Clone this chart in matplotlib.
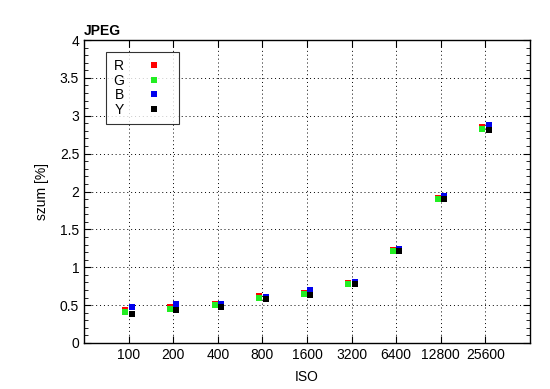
import matplotlib
matplotlib.use("Agg")
import matplotlib.pyplot as plt
from matplotlib.ticker import MultipleLocator

plt.rcParams['font.family'] = ['Liberation Sans', 'DejaVu Sans']

iso = ["100", "200", "400", "800", "1600", "3200", "6400", "12800", "25600"]
R = [0.44, 0.48, 0.52, 0.62, 0.66, 0.79, 1.23, 1.91, 2.85]
G = [0.41, 0.45, 0.50, 0.59, 0.65, 0.78, 1.22, 1.90, 2.83]
B = [0.47, 0.51, 0.52, 0.61, 0.70, 0.80, 1.24, 1.94, 2.88]
Y = [0.38, 0.43, 0.47, 0.58, 0.63, 0.78, 1.21, 1.90, 2.81]
yticks = [0, 0.5, 1, 1.5, 2, 2.5, 3, 3.5, 4]
ytick_labels = ["0", "0.5", "1", "1.5", "2", "2.5", "3", "3.5", "4"]

series = [("R", R, "#ff0000", -0.07), ("G", G, "#22ee22", -0.07),
          ("B", B, "#0000ee", 0.07), ("Y", Y, "#000000", 0.07)]

fig = plt.figure(figsize=(5.5, 3.89), dpi=100)
ax = fig.add_axes([84/550, 1-343/389, 446/550, 303/389])

pos = list(range(1, len(iso) + 1))
for name, vals, col, off in series:
    ax.plot([p + off for p in pos], vals, linestyle='none', marker='s',
            markersize=4.5, color=col, markeredgewidth=0, label=name)

ax.set_xlim(0, 10)
ax.set_ylim(0, 4)
ax.set_xticks(pos)
ax.set_xticklabels(iso)
ax.set_yticks(yticks)
ax.set_yticklabels(ytick_labels)
ax.yaxis.set_minor_locator(MultipleLocator(0.1))
ax.tick_params(which='both', direction='in', top=True, right=True, labelsize=10)
ax.tick_params(which='major', length=5)
ax.tick_params(which='minor', length=3)
ax.grid(True, which='major', color='black', linestyle=(0, (1, 3)), linewidth=0.7)
for s in ax.spines.values():
    s.set_linewidth(1)

ax.set_xlabel("ISO", fontsize=10, labelpad=6)
ax.set_ylabel("szum [%]", fontsize=10, labelpad=8)
ax.text(0, 1.008, "JPEG", transform=ax.transAxes, fontsize=10, fontweight='bold',
        ha='left', va='bottom')

leg = ax.legend(loc='upper left', bbox_to_anchor=(22/446, 1 - 12/303), markerfirst=False,
                frameon=True, fancybox=False, fontsize=10, handlelength=2.6,
                handletextpad=0.9, borderpad=0.5, labelspacing=0.05, borderaxespad=0)
leg.get_frame().set_edgecolor('black')
leg.get_frame().set_linewidth(0.8)

fig.savefig("out.png", dpi=100)
